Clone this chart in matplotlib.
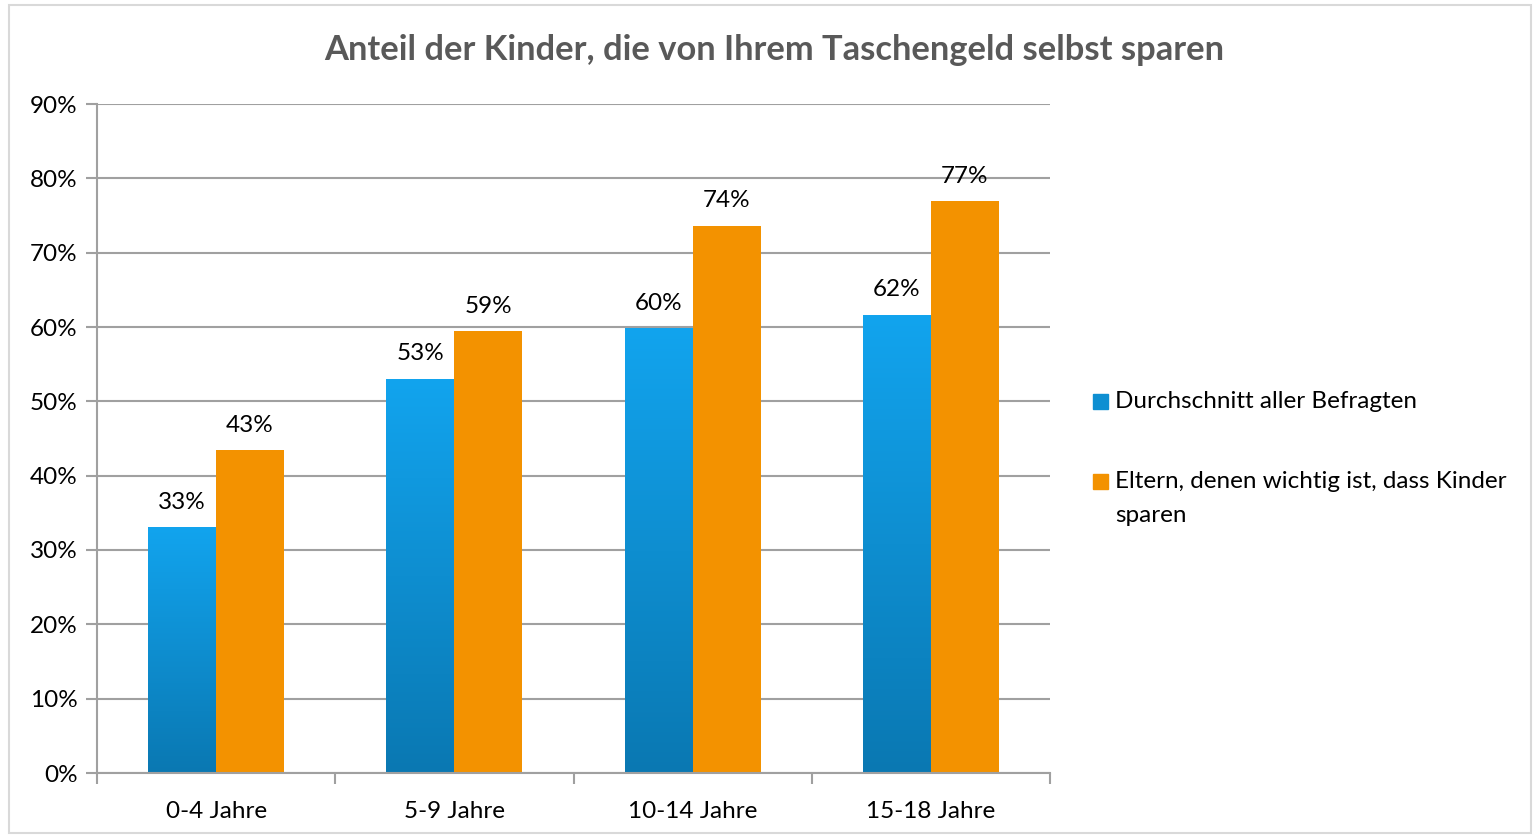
import numpy as np
import matplotlib
matplotlib.use('Agg')
import matplotlib.pyplot as plt
from matplotlib.patches import Rectangle

plt.rcParams['font.family'] = ['Lato', 'DejaVu Sans']

# data
categories = ["0-4 Jahre", "5-9 Jahre", "10-14 Jahre", "15-18 Jahre"]
series_names = ["Durchschnitt aller Befragten",
                "Eltern, denen wichtig ist, dass Kinder\nsparen"]
avg_all = [33.0, 53.0, 59.8, 61.6]
parents_save = [43.4, 59.4, 73.6, 76.9]
avg_labels = ["33%", "53%", "60%", "62%"]
parents_labels = ["43%", "59%", "74%", "77%"]
title = "Anteil der Kinder, die von Ihrem Taschengeld selbst sparen"

W, H = 1533, 835
FS = 17.5
fig = plt.figure(figsize=(W / 100, H / 100), dpi=100)
ax = fig.add_axes([97 / W, 1 - 773 / H, 953 / W, 669 / H])

# light frame round the chart
fig.patches.append(Rectangle((9 / W, 2 / H), 1522 / W, 828 / H, transform=fig.transFigure,
                             fill=False, ec="#D9D9D9", lw=1.5))

x = np.arange(len(categories))
bw = 0.285
grad = np.linspace(0, 1, 256).reshape(-1, 1)
blue_cmap = matplotlib.colors.LinearSegmentedColormap.from_list("b", ["#0A78B2", "#12A4EE"])

for i in range(len(categories)):
    # blue bar with vertical gradient
    x0 = x[i] - bw
    v = avg_all[i]
    ax.imshow(grad, cmap=blue_cmap, aspect="auto", origin="lower",
              extent=(x0, x0 + bw, 0, v), zorder=3)
    # orange bar
    ax.bar(x[i] + bw / 2, parents_save[i], width=bw, color="#F39200", zorder=3)
    ax.text(x[i] - bw / 2, v + 2.0, avg_labels[i], ha="center", va="bottom", fontsize=FS)
    ax.text(x[i] + bw / 2, parents_save[i] + 2.0, parents_labels[i], ha="center",
            va="bottom", fontsize=FS)

ax.set_xlim(-0.5, len(categories) - 0.5)
ax.set_ylim(0, 90)
ax.set_yticks(range(0, 91, 10))
ax.set_yticklabels([f"{t}%" for t in range(0, 91, 10)], fontsize=FS)
ax.set_xticks(x)
ax.set_xticklabels(categories, fontsize=FS)
ax.set_xticks(np.arange(-0.5, len(categories)), minor=True)
ax.tick_params(axis="x", which="major", length=0, pad=20)
ax.tick_params(axis="x", which="minor", length=8, color="#A0A0A0", width=1.5)
ax.tick_params(axis="y", length=8, color="#A0A0A0", width=1.5, pad=6)
ax.grid(axis="y", color="#A0A0A0", lw=1.5, zorder=0)
for s in ["top", "right"]:
    ax.spines[s].set_visible(False)
for s in ["left", "bottom"]:
    ax.spines[s].set_color("#A0A0A0")
    ax.spines[s].set_linewidth(1.5)
ax.spines["bottom"].set_zorder(4)

fig.text(774 / W, 1 - 50 / H, title, ha="center", va="center", fontsize=24.8,
         fontweight="bold", color="#595959")

# legend
leg_y = [401, 481]
fig.patches.append(Rectangle((1093 / W, 1 - 409 / H), 15 / W, 15 / H, transform=fig.transFigure,
                             color="#0E8FD2"))
fig.patches.append(Rectangle((1093 / W, 1 - 489 / H), 15 / W, 15 / H, transform=fig.transFigure,
                             color="#F39200"))
for name, yy in zip(series_names, leg_y):
    fig.text(1115 / W, 1 - (yy - 10) / H, name, ha="left", va="top", fontsize=FS,
             linespacing=1.75)

fig.savefig("out.png", dpi=100)
